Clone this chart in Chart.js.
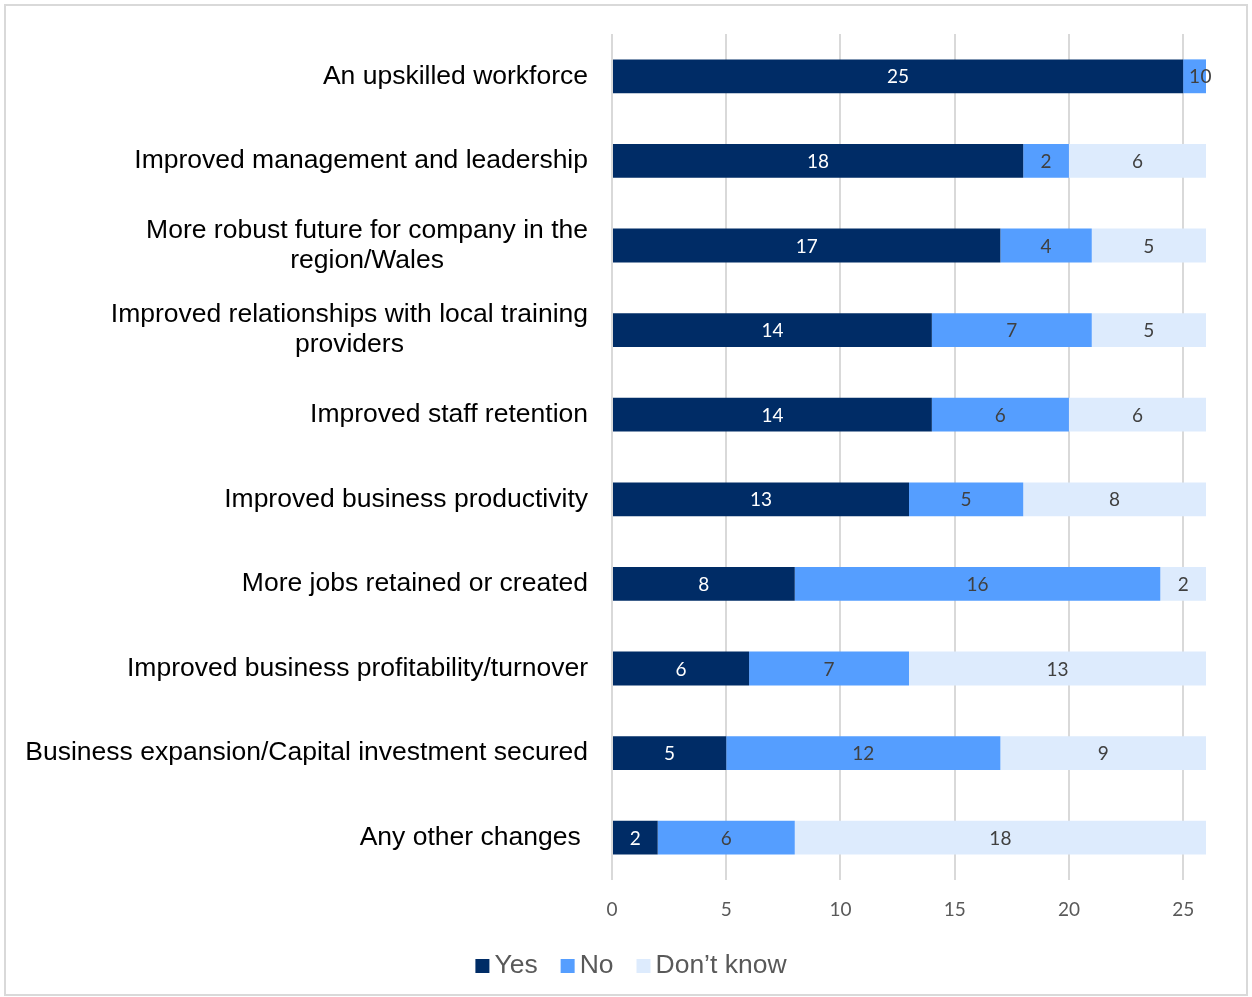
<!DOCTYPE html>
<html>
<head>
<meta charset="utf-8">
<script src="https://cdn.jsdelivr.net/npm/chart.js@4/dist/chart.umd.min.js"></script>
<style>
  html, body { margin: 0; padding: 0; background: #fff; }
  #wrap { position: relative; width: 1252px; height: 997px; }
</style>
</head>
<body>
<div id="wrap"><canvas id="chart" width="1252" height="997"></canvas></div>
<script>
// Survey outcomes: number of respondents per answer
const categories = [
  "An upskilled workforce",
  "Improved management and leadership",
  ["More robust future for company in the", "region/Wales"],
  ["Improved relationships with local training", "providers"],
  "Improved staff retention",
  "Improved business productivity",
  "More jobs retained or created",
  "Improved business profitability/turnover",
  "Business expansion/Capital investment secured",
  "Any other changes "
];
const yesValues = [25, 18, 17, 14, 14, 13, 8, 6, 5, 2];
const noValues = [1, 2, 4, 7, 6, 5, 16, 7, 12, 6];
const dontKnowValues = [0, 6, 5, 5, 6, 8, 2, 13, 9, 18];
const seriesNames = ["Yes", "No", "Don\u2019t know"];
const xTicks = [0, 5, 10, 15, 20, 25];

const colors = ["#002c66", "#559eff", "#ddebfd"];
const labelColors = ["#ffffff", "#404040", "#404040"];
const ARIAL = "'Liberation Sans', Arial, sans-serif";
const CALIBRI = "Lato, 'Open Sans', sans-serif";

// Frame around the whole figure
const framePlugin = {
  id: "frame",
  beforeDraw(chart) {
    const ctx = chart.ctx;
    ctx.save();
    ctx.fillStyle = "#ffffff";
    ctx.fillRect(0, 0, chart.width, chart.height);
    ctx.strokeStyle = "#d9d9d9";
    ctx.lineWidth = 2;
    ctx.strokeRect(5, 5, chart.width - 10, chart.height - 7);
    ctx.restore();
  }
};

// Category labels: block right-aligned to the axis, lines centred within the block
const categoryLabels = {
  id: "categoryLabels",
  afterDraw(chart) {
    const ctx = chart.ctx;
    const scale = chart.scales.y;
    const right = scale.right - 24;
    const lineH = 30;
    ctx.save();
    ctx.font = "26.5px " + ARIAL;
    ctx.fillStyle = "#000000";
    ctx.textAlign = "center";
    ctx.textBaseline = "middle";
    chart.data.labels.forEach((lab, i) => {
      const lines = Array.isArray(lab) ? lab : [lab];
      const w = Math.max(...lines.map(l => ctx.measureText(l).width));
      const cx = right - w / 2;
      const cy = scale.getPixelForTick(i);
      lines.forEach((l, k) => {
        ctx.fillText(l, cx, cy + (k - (lines.length - 1) / 2) * lineH);
      });
    });
    ctx.restore();
  }
};

// Value labels centred in each bar segment
const valueLabels = {
  id: "valueLabels",
  afterDatasetsDraw(chart) {
    const ctx = chart.ctx;
    ctx.save();
    ctx.font = "19px " + CALIBRI;
    ctx.textAlign = "center";
    ctx.textBaseline = "middle";
    chart.data.datasets.forEach((ds, di) => {
      const meta = chart.getDatasetMeta(di);
      meta.data.forEach((bar, i) => {
        const props = bar.getProps(["x", "y", "base"], true);
        ctx.fillStyle = labelColors[di];
        ctx.fillText(String(ds.data[i]), (props.x + props.base) / 2, props.y + 1);
      });
    });
    ctx.restore();
  }
};

// Legend row under the axis
const legendRow = {
  id: "legendRow",
  afterDraw(chart) {
    const ctx = chart.ctx;
    const box = 14, gapText = 5, gapItem = 23;
    const cy = 965;
    ctx.save();
    ctx.font = "26.5px " + ARIAL;
    ctx.textBaseline = "middle";
    ctx.textAlign = "left";
    const items = chart.data.datasets.map(ds => ({
      text: ds.label, color: ds.backgroundColor, w: ctx.measureText(ds.label).width
    }));
    const total = items.reduce((s, it) => s + box + gapText + it.w, 0) + gapItem * (items.length - 1);
    let x = 631 - total / 2;
    items.forEach(it => {
      ctx.fillStyle = it.color;
      ctx.fillRect(x, cy - box / 2 + 1, box, box);
      x += box + gapText;
      ctx.fillStyle = "#595959";
      ctx.fillText(it.text, x, cy + 1);
      x += it.w + gapItem;
    });
    ctx.restore();
  }
};

new Chart(document.getElementById("chart"), {
  type: "bar",
  data: {
    labels: categories,
    datasets: [
      { label: seriesNames[0], data: yesValues, backgroundColor: colors[0] },
      { label: seriesNames[1], data: noValues, backgroundColor: colors[1] },
      { label: seriesNames[2], data: dontKnowValues, backgroundColor: colors[2] }
    ]
  },
  options: {
    indexAxis: "y",
    responsive: false,
    animation: false,
    devicePixelRatio: 1,
    layout: { padding: { top: 34, right: 46, bottom: 60, left: 0 } },
    datasets: { bar: { barPercentage: 0.4, categoryPercentage: 1.0, borderWidth: 0 } },
    scales: {
      x: {
        stacked: true,
        min: 0,
        max: 26,
        border: { display: false },
        grid: { color: "#d9d9d9", lineWidth: 2, drawTicks: false },
        afterBuildTicks(scale) { scale.ticks = xTicks.map(v => ({ value: v })); },
        afterFit(scale) { scale.height = 57; },
        ticks: {
          includeBounds: false,
          padding: 18,
          color: "#595959",
          font: { family: CALIBRI, size: 19 }
        }
      },
      y: {
        stacked: true,
        border: { display: false },
        grid: { display: false, drawTicks: false },
        afterFit(scale) { scale.width = 612; },
        ticks: { display: false }
      }
    },
    plugins: {
      tooltip: { enabled: false },
      legend: { display: false }
    }
  },
  plugins: [framePlugin, valueLabels, categoryLabels, legendRow]
});
</script>
</body>
</html>
